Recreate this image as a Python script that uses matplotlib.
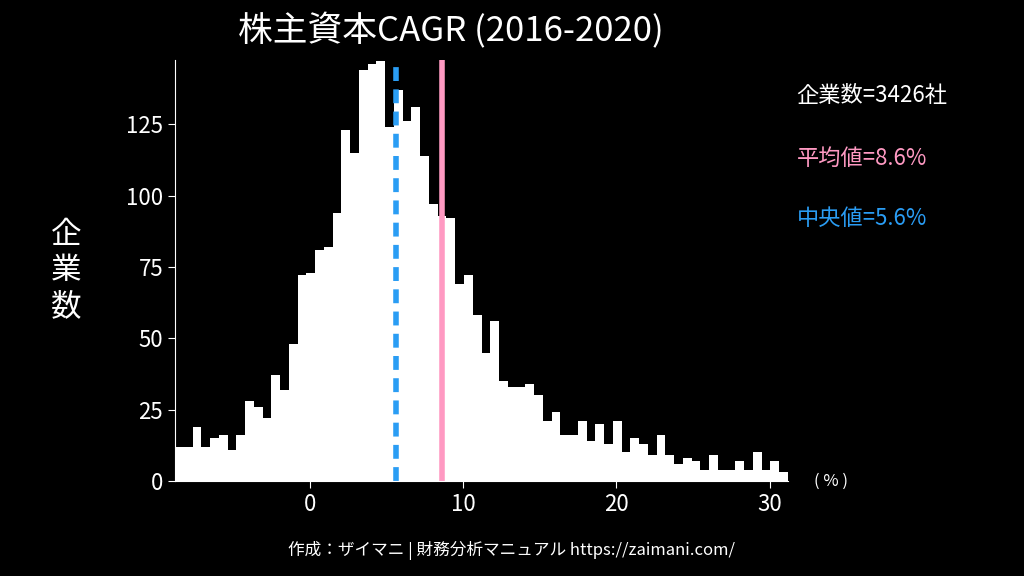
import matplotlib
matplotlib.use("Agg")
import matplotlib.pyplot as plt
import numpy as np

plt.rcParams['font.family'] = ['Noto Sans CJK JP', 'DejaVu Sans']

# histogram counts, 70 bins from -8.8% to 31.2%
counts = [12, 12, 19, 12, 15, 16, 11, 16, 28, 26,
          22, 37, 32, 48, 72, 73, 81, 82, 94, 123,
          115, 144, 146, 147, 124, 137, 126, 131, 114, 97,
          93, 92, 69, 72, 58, 45, 56, 35, 33, 33,
          34, 30, 21, 24, 16, 16, 21, 14, 20, 13,
          21, 10, 15, 13, 9, 16, 9, 6, 8, 7,
          4, 9, 4, 4, 7, 4, 10, 4, 7, 3]
bin_lo, bin_hi = -8.8, 31.2
mean_val = 8.6
median_val = 5.6
n_companies = 3426

edges = np.linspace(bin_lo, bin_hi, len(counts) + 1)

fig = plt.figure(figsize=(10.24, 5.76), dpi=100, facecolor='black')
ax = fig.add_axes([175/1024, 95/576, 613/1024, 421/576], facecolor='black')
ax.bar(edges[:-1], counts, width=np.diff(edges), align='edge', color='white', linewidth=0)
ax.axvline(mean_val, color='#ff99c2', lw=4)
ax.axvline(median_val, color='#2a9df4', lw=4, ls=(0, (2.5, 1.5)))

ax.set_xlim(bin_lo, bin_hi)
ax.set_ylim(0, 147.5)
ax.set_xticks([0, 10, 20, 30])
ax.set_yticks([0, 25, 50, 75, 100, 125])
ax.tick_params(colors='white', labelsize=16, length=5)
for s in ['top', 'right']:
    ax.spines[s].set_visible(False)
for s in ['left', 'bottom']:
    ax.spines[s].set_color('white')

fig.text(0.44, 0.945, '株主資本CAGR (2016-2020)', color='white', fontsize=25, ha='center', va='center')
fig.text(0.065, 0.53, '企\n業\n数', color='white', fontsize=22, ha='center', va='center', linespacing=1.2)
fig.text(0.795, 0.165, '( % )', color='white', fontsize=12, ha='left', va='center')
fig.text(0.778, 0.835, f'企業数={n_companies}社', color='white', fontsize=16, ha='left', va='center')
fig.text(0.778, 0.725, f'平均値={mean_val}%', color='#ff99c2', fontsize=16, ha='left', va='center')
fig.text(0.778, 0.62, f'中央値={median_val}%', color='#2a9df4', fontsize=16, ha='left', va='center')
fig.text(0.5, 0.045, '作成：ザイマニ | 財務分析マニュアル https://zaimani.com/', color='white',
         fontsize=12, ha='center', va='center')

fig.savefig('out.png', dpi=100, facecolor='black')
